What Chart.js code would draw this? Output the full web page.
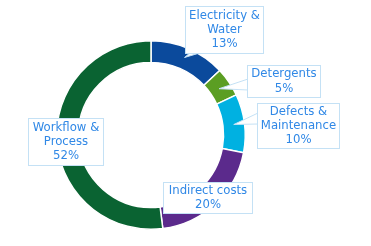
<!DOCTYPE html>
<html>
<head>
<meta charset="utf-8">
<script src="https://cdn.jsdelivr.net/npm/chart.js@4/dist/chart.umd.min.js"></script>
<style>
  html, body { margin: 0; padding: 0; background: #fff; }
  canvas { display: block; }
</style>
</head>
<body>
<canvas id="c" width="371" height="246"></canvas>
<script>
// cost breakdown doughnut
const categories = ['Electricity & Water', 'Detergents', 'Defects & Maintenance', 'Indirect costs', 'Workflow & Process'];
const shares = [13, 5, 10, 20, 52];
const labelLines = [
  ['Electricity &', 'Water'],
  ['Detergents'],
  ['Defects &', 'Maintenance'],
  ['Indirect costs'],
  ['Workflow &', 'Process'],
];
const colors = ['#0b4a9c', '#5b9e23', '#00b1e1', '#5b2a8c', '#0a6332'];

// callout boxes: left, top, width, height, tail anchor fraction of ring (0 = inner, 1 = outer)
const boxes = [
  { x: 185, y: 6, w: 78, h: 47, tail: true, tailBase: [196, 53], r: 0.55 },
  { x: 247, y: 65, w: 73, h: 32, tail: true, tailBase: [247, 84], r: 0.45 },
  { x: 257, y: 103, w: 82, h: 45, tail: true, tailBase: [257, 118], r: 0.5 },
  { x: 163, y: 182, w: 89, h: 31, tail: false },
  { x: 28, y: 118, w: 75, h: 47, tail: false },
];

const callouts = {
  id: 'callouts',
  afterDatasetsDraw(chart) {
    const ctx = chart.ctx;
    const meta = chart.getDatasetMeta(0);
    ctx.save();
    ctx.font = '11.7px "DejaVu Sans", Verdana, sans-serif';
    ctx.textAlign = 'center';
    ctx.textBaseline = 'middle';
    meta.data.forEach((arc, i) => {
      const b = boxes[i];
      if (b.tail) {
        const mid = (arc.startAngle + arc.endAngle) / 2;
        const rad = arc.innerRadius + (arc.outerRadius - arc.innerRadius) * b.r;
        const tx = arc.x + Math.cos(mid) * rad;
        const ty = arc.y + Math.sin(mid) * rad;
        const [bx, by] = b.tailBase;
        ctx.beginPath();
        if (by === b.y + b.h) {
          ctx.moveTo(bx - 5, by - 1);
          ctx.lineTo(tx, ty);
          ctx.lineTo(bx + 7, by - 1);
        } else {
          ctx.moveTo(bx + 1, by - 5);
          ctx.lineTo(tx, ty);
          ctx.lineTo(bx + 1, by + 6);
        }
        ctx.closePath();
        ctx.fillStyle = '#fff';
        ctx.fill();
        ctx.strokeStyle = '#c4e1f5';
        ctx.lineWidth = 1;
        ctx.stroke();
      }
      ctx.fillStyle = '#fff';
      ctx.fillRect(b.x, b.y, b.w, b.h);
      ctx.strokeStyle = '#c4e1f5';
      ctx.lineWidth = 1;
      ctx.strokeRect(b.x + 0.5, b.y + 0.5, b.w, b.h);
      const lines = labelLines[i].concat([shares[i] + '%']);
      const lh = 14.2;
      const cx = b.x + b.w / 2 + 0.5;
      const cy = b.y + b.h / 2 + 0.5;
      ctx.fillStyle = '#3088e6';
      lines.forEach((t, k) => {
        ctx.fillText(t, cx, cy + (k - (lines.length - 1) / 2) * lh);
      });
    });
    ctx.restore();
  }
};

new Chart(document.getElementById('c'), {
  type: 'doughnut',
  data: {
    labels: categories,
    datasets: [{
      data: shares,
      backgroundColor: colors,
      borderColor: '#fff',
      borderWidth: 1.5,
    }]
  },
  options: {
    responsive: false,
    animation: false,
    cutout: '77%',
    layout: { padding: { left: 56, right: 125, top: 40, bottom: 16 } },
    plugins: { legend: { display: false }, tooltip: { enabled: false } },
  },
  plugins: [callouts],
});
</script>
</body>
</html>
